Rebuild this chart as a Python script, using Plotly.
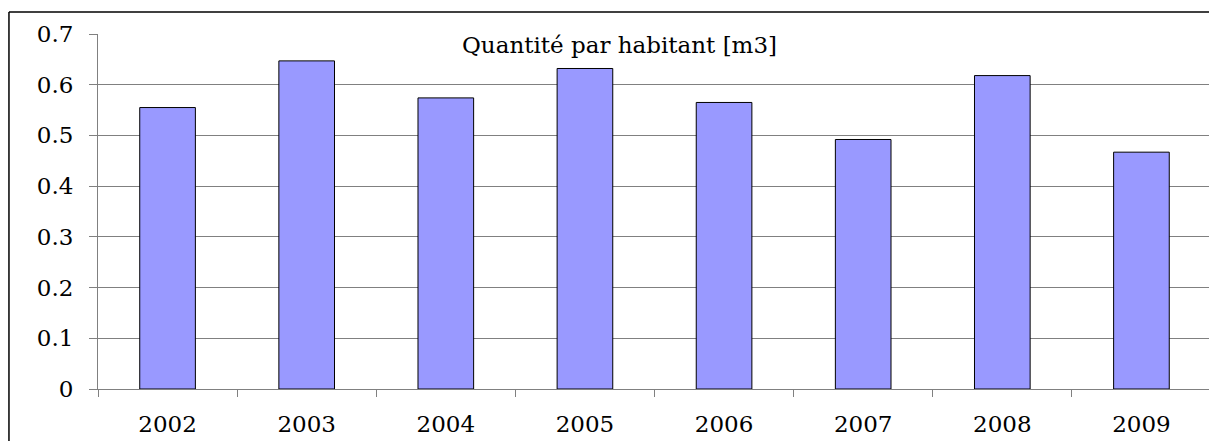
import plotly.graph_objects as go

years = ["2002", "2003", "2004", "2005", "2006", "2007", "2008", "2009"]
values = [0.555, 0.647, 0.574, 0.632, 0.565, 0.492, 0.618, 0.467]
y_ticks = [0, 0.1, 0.2, 0.3, 0.4, 0.5, 0.6, 0.7]
grid_vals = [0.1, 0.2, 0.3, 0.4, 0.5, 0.6]
title_text = "Quantité par habitant [m3]"

FONT = "DejaVu Serif"

fig = go.Figure(go.Bar(
    x=years, y=values,
    marker=dict(color="#9999FF", line=dict(color="black", width=1)),
))

fig.update_layout(
    width=1209, height=433,
    margin=dict(l=90, r=6, t=26, b=52, autoexpand=False),
    paper_bgcolor="white", plot_bgcolor="white",
    bargap=0.6, showlegend=False,
    font=dict(family=FONT, color="black", size=22),
)
fig.update_xaxes(
    type="category", tickson="boundaries", ticks="outside", ticklen=7,
    tickcolor="#808080", showline=True, linecolor="#808080", linewidth=1,
    showgrid=False, tickfont=dict(family=FONT, size=23), ticklabelstandoff=14,
    automargin=False,
)
fig.update_yaxes(
    range=[0, 0.7], tickvals=y_ticks, ticktext=[f"{v:g}" for v in y_ticks],
    ticks="outside", ticklen=8, tickcolor="#808080",
    showline=True, linecolor="#808080", linewidth=1,
    showgrid=False, zeroline=False, automargin=False,
    minor=dict(tickvals=grid_vals, showgrid=True, gridcolor="#808080", gridwidth=1, ticks=""),
    tickfont=dict(family=FONT, size=23), ticklabelstandoff=11,
)
fig.add_annotation(
    text=title_text, xref="paper", yref="paper", x=0.469, y=0.969,
    xanchor="center", yanchor="middle", showarrow=False,
    font=dict(family=FONT, size=23, color="black"),
)
# outer chart frame (left and top edges visible)
fig.add_shape(type="line", xref="paper", yref="paper", x0=-0.080, x1=-0.080, y0=-0.3, y1=1.062,
              line=dict(color="black", width=1.5))
fig.add_shape(type="line", xref="paper", yref="paper", x0=-0.080, x1=1.1, y0=1.062, y1=1.062,
              line=dict(color="black", width=1.5))

fig.write_html("out.html")
